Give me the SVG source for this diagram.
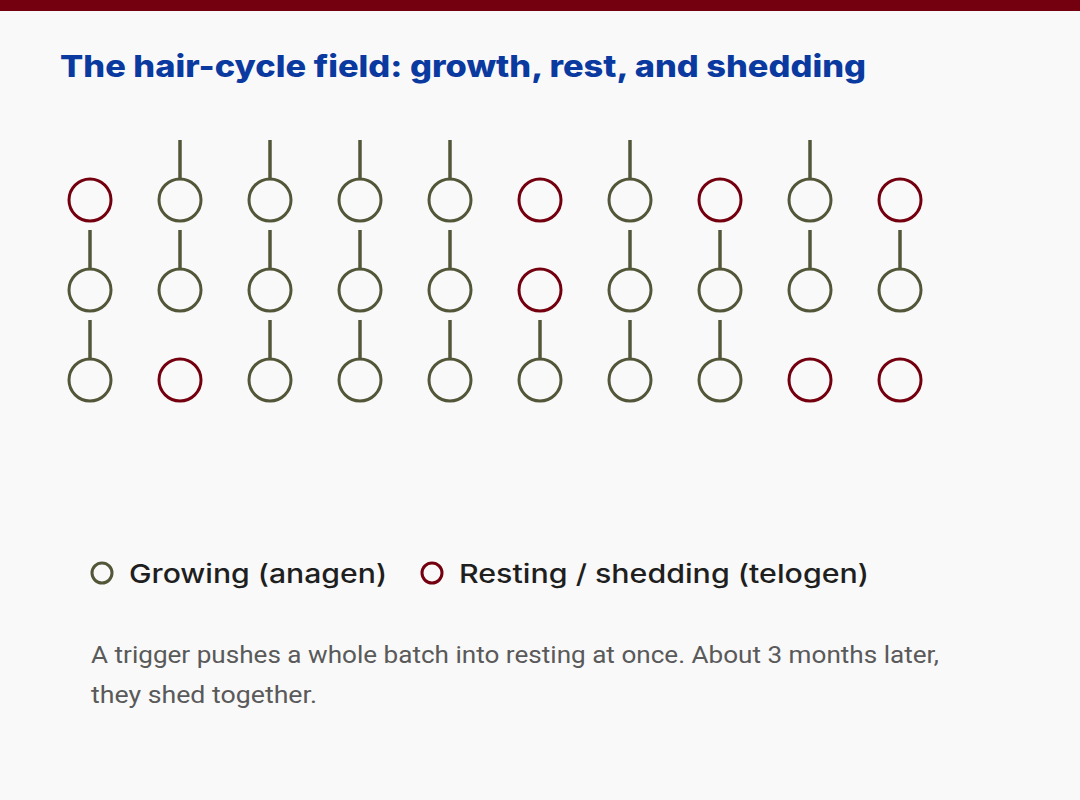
<svg xmlns="http://www.w3.org/2000/svg" width="1080" height="800" viewBox="0 0 1080 800">
<defs>
<style>
.g{fill:none;stroke:#535638;stroke-width:3}
.r{fill:none;stroke:#74000f;stroke-width:3}
.stem{stroke:#535638;stroke-width:3.5}
.title{font-family:"Inter","Liberation Sans",sans-serif;font-weight:800;font-size:30px;fill:#0a3aa0}
.leg{font-family:"Inter","Liberation Sans",sans-serif;font-weight:500;font-size:26px;fill:#1f1f1f}
.cap{font-family:"Roboto","Liberation Sans",sans-serif;font-size:24px;fill:#5a5a5a}
</style>
</defs>
<rect width="1080" height="800" fill="#f9f9f9"/>
<rect width="1080" height="11" fill="#74000f"/>
<text class="title" x="60" y="77" textLength="806" lengthAdjust="spacingAndGlyphs">The hair-cycle field: growth, rest, and shedding</text>
<g id="connectors">
<line class="stem" x1="180" y1="140" x2="180" y2="179"/>
<line class="stem" x1="270" y1="140" x2="270" y2="179"/>
<line class="stem" x1="360" y1="140" x2="360" y2="179"/>
<line class="stem" x1="450" y1="140" x2="450" y2="179"/>
<line class="stem" x1="630" y1="140" x2="630" y2="179"/>
<line class="stem" x1="810" y1="140" x2="810" y2="179"/>
<line class="stem" x1="90" y1="230" x2="90" y2="269"/>
<line class="stem" x1="180" y1="230" x2="180" y2="269"/>
<line class="stem" x1="270" y1="230" x2="270" y2="269"/>
<line class="stem" x1="360" y1="230" x2="360" y2="269"/>
<line class="stem" x1="450" y1="230" x2="450" y2="269"/>
<line class="stem" x1="630" y1="230" x2="630" y2="269"/>
<line class="stem" x1="720" y1="230" x2="720" y2="269"/>
<line class="stem" x1="810" y1="230" x2="810" y2="269"/>
<line class="stem" x1="900" y1="230" x2="900" y2="269"/>
<line class="stem" x1="90" y1="320" x2="90" y2="359"/>
<line class="stem" x1="270" y1="320" x2="270" y2="359"/>
<line class="stem" x1="360" y1="320" x2="360" y2="359"/>
<line class="stem" x1="450" y1="320" x2="450" y2="359"/>
<line class="stem" x1="540" y1="320" x2="540" y2="359"/>
<line class="stem" x1="630" y1="320" x2="630" y2="359"/>
<line class="stem" x1="720" y1="320" x2="720" y2="359"/>
</g>
<g id="follicles">
<circle id="f1a" class="r" cx="90" cy="200" r="21"/>
<circle id="f2a" class="g" cx="180" cy="200" r="21"/>
<circle id="f3a" class="g" cx="270" cy="200" r="21"/>
<circle id="f4a" class="g" cx="360" cy="200" r="21"/>
<circle id="f5a" class="g" cx="450" cy="200" r="21"/>
<circle id="f6a" class="r" cx="540" cy="200" r="21"/>
<circle id="f7a" class="g" cx="630" cy="200" r="21"/>
<circle id="f8a" class="r" cx="720" cy="200" r="21"/>
<circle id="f9a" class="g" cx="810" cy="200" r="21"/>
<circle id="f10a" class="r" cx="900" cy="200" r="21"/>
<circle id="f1b" class="g" cx="90" cy="290" r="21"/>
<circle id="f2b" class="g" cx="180" cy="290" r="21"/>
<circle id="f3b" class="g" cx="270" cy="290" r="21"/>
<circle id="f4b" class="g" cx="360" cy="290" r="21"/>
<circle id="f5b" class="g" cx="450" cy="290" r="21"/>
<circle id="f6b" class="r" cx="540" cy="290" r="21"/>
<circle id="f7b" class="g" cx="630" cy="290" r="21"/>
<circle id="f8b" class="g" cx="720" cy="290" r="21"/>
<circle id="f9b" class="g" cx="810" cy="290" r="21"/>
<circle id="f10b" class="g" cx="900" cy="290" r="21"/>
<circle id="f1c" class="g" cx="90" cy="380" r="21"/>
<circle id="f2c" class="r" cx="180" cy="380" r="21"/>
<circle id="f3c" class="g" cx="270" cy="380" r="21"/>
<circle id="f4c" class="g" cx="360" cy="380" r="21"/>
<circle id="f5c" class="g" cx="450" cy="380" r="21"/>
<circle id="f6c" class="g" cx="540" cy="380" r="21"/>
<circle id="f7c" class="g" cx="630" cy="380" r="21"/>
<circle id="f8c" class="g" cx="720" cy="380" r="21"/>
<circle id="f9c" class="r" cx="810" cy="380" r="21"/>
<circle id="f10c" class="r" cx="900" cy="380" r="21"/>
</g>
<g id="legend">
<circle class="g" cx="102" cy="573" r="10"/>
<text class="leg" x="129" y="583" textLength="258" lengthAdjust="spacingAndGlyphs">Growing (anagen)</text>
<circle class="r" cx="432" cy="573" r="10"/>
<text class="leg" x="459" y="583" textLength="410" lengthAdjust="spacingAndGlyphs">Resting / shedding (telogen)</text>
</g>
<g id="caption">
<text class="cap" x="91" y="663" textLength="848" lengthAdjust="spacingAndGlyphs">A trigger pushes a whole batch into resting at once. About 3 months later,</text>
<text class="cap" x="91" y="703" textLength="226" lengthAdjust="spacingAndGlyphs">they shed together.</text>
</g>
</svg>
